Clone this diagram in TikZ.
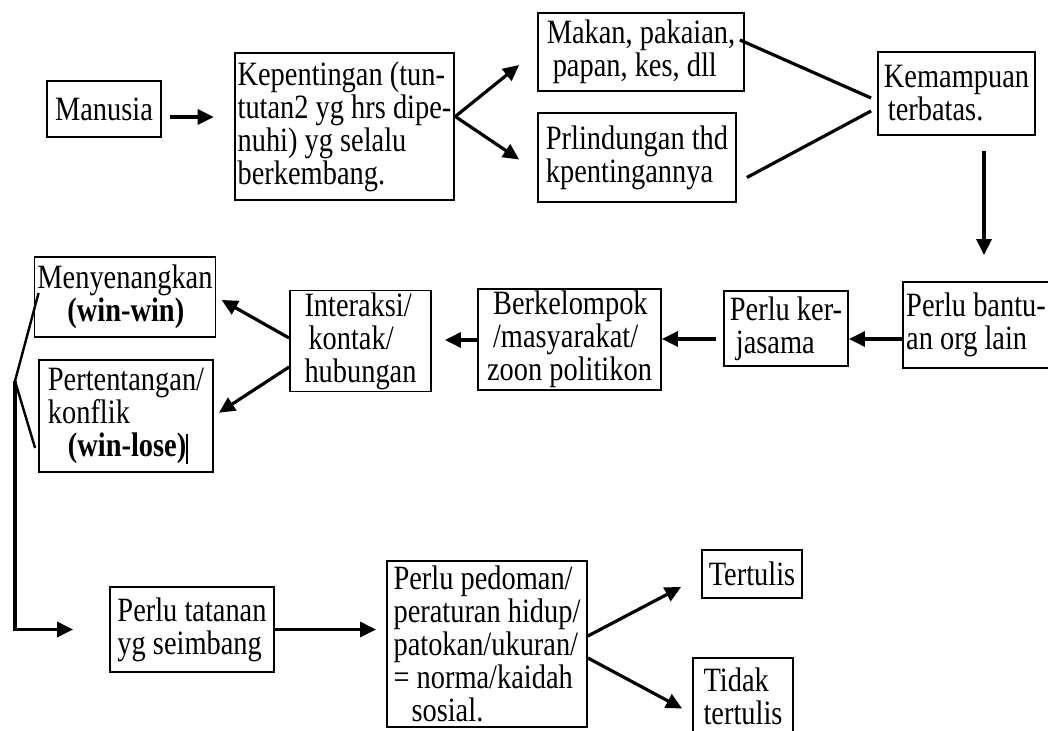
\documentclass[tikz,border=0pt]{standalone}
\usepackage{fontspec}
\setmainfont{Liberation Serif}
\usepackage{graphicx}
\usepackage{varwidth}
\usetikzlibrary{arrows.meta}
\newcommand{\tall}[1]{\scalebox{1}[1.2]{\begin{varwidth}{150pt}\raggedright#1\end{varwidth}}}
\tikzset{
  box/.style={draw,line width=0.9pt,inner xsep=1.5pt,inner ysep=1pt,
    font=\fontsize{14.2}{13.75}\selectfont},
  arr/.style={line width=1.6pt,-{Triangle[length=8pt,width=7.5pt]}},
  link/.style={line width=1.6pt}
}

\begin{document}
\begin{tikzpicture}[x=0.5pt,y=-0.5pt]
            \useasboundingbox (0,0) rectangle (1048,731);

            \node[box,minimum width=57pt,minimum height=28pt] (manusia) at (104,109){\tall{Manusia}};
            \node[box,minimum width=109.5pt,minimum height=73.5pt] (kep) at (344.5,126.5){\tall{Kepentingan (tun-\\tutan2 yg hrs dipe-\\nuhi) yg selalu\\berkembang.}};
            \node[box,minimum width=103pt,minimum height=39pt] (makan) at (641,52){\tall{Makan, pakaian,\\\hspace*{3pt}papan, kes, dll}};
            \node[box,minimum width=99pt,minimum height=44.5pt] (prlind) at (637,157.5){\tall{Prlindungan thd\\kpentingannya}};
            \node[box,minimum width=78.5pt,minimum height=41.5pt] (kemamp) at (956.5,93.5){\tall{Kemampuan\\\hspace*{2pt}terbatas.}};

            \node[box,minimum width=67pt,minimum height=43pt] (bantuan) at (976,325){\tall{Perlu bantu-\\an org lain}};
            \node[box,minimum width=62pt,minimum height=37.5pt] (kerjasama) at (786,328.5){\tall{Perlu ker-\\\hspace*{3pt}jasama}};
            \node[box,minimum width=91.5pt,minimum height=48.5pt] (berkel) at (569.5,339.5){\tall{\hspace*{3pt}Berkelompok\\\hspace*{3pt}/masyarakat/\\zoon politikon}};
            \node[box,minimum width=70.5pt,minimum height=49pt] (interaksi) at (360.5,341){\tall{Interaksi/\\\hspace*{2pt}kontak/\\hubungan}};
            \node[box,minimum width=89pt,minimum height=40pt] (menyen) at (125,297){\tall{Menyenangkan\\\hspace*{15pt}\textbf{(win-win)}}};
            \node[box,minimum width=87pt,minimum height=56pt] (pertent) at (126,416){\tall{Pertentangan/\\konflik\\\hspace*{10pt}\textbf{(win-lose)}\rule[-3pt]{0.8pt}{12.5pt}}};

            \node[box,minimum width=82pt,minimum height=42.5pt] (tatanan) at (192,629.5){\tall{Perlu tatanan\\yg seimbang}};
            \node[box,minimum width=100pt,minimum height=83pt] (pedoman) at (487,644){\tall{Perlu pedoman/\\peraturan hidup/\\patokan/ukuran/\\= norma/kaidah\\\hspace*{9pt}sosial.}};
            \node[box,minimum width=50pt,minimum height=24pt] (tertulis) at (752,574){\tall{Tertulis}};
            \node[box,minimum width=50pt,minimum height=38pt] (tidak) at (743,696){\tall{Tidak\\tertulis}};

            \coordinate (fork) at (15,381);

            \draw[arr,shorten <=4pt,shorten >=10pt] ([yshift=-4pt]manusia.east) -- ([yshift=-4pt]manusia.east -| kep.west);
            \draw[arr] ([yshift=5pt]kep.east) -- ([xshift=-9pt,yshift=-6.5pt]makan.west);
            \draw[arr] ([yshift=5pt]kep.east) -- ([xshift=-9pt,yshift=-1pt]prlind.west);
            \draw[link] ([xshift=-2.5pt,yshift=6pt]makan.east) -- ([xshift=-3pt,yshift=-2.25pt]kemamp.west);
            \draw[link] ([xshift=5pt,yshift=-10pt]prlind.east) -- ([xshift=-3pt,yshift=-8.75pt]kemamp.west);
            \draw[arr,shorten <=7.5pt,shorten >=13pt] (kemamp.south -| 984,0) -- (bantuan.north -| 984,0);

            \draw[arr] (bantuan.west |- 0,339) -- (kerjasama.east |- 0,339);
            \draw[arr,shorten <=3.5pt] (kerjasama.west |- 0,339) -- (berkel.east |- 0,339);
            \draw[arr,shorten >=6.5pt] (berkel.west |- 0,340) -- (interaksi.east |- 0,340);
            \draw[arr,shorten >=3pt] ([yshift=1.5pt]interaksi.west) -- (menyen.east);
            \draw[arr,shorten >=3pt] ([yshift=-13pt]interaksi.west) -- (pertent.east);

            \draw[link,line width=1.2pt] ([xshift=2.5pt,yshift=2pt]menyen.west) -- (fork) -- ([xshift=-1.5pt,yshift=-16pt]pertent.west);
            \draw[arr,shorten >=18pt] (fork) |- (tatanan.west);
            \draw[arr,shorten >=5pt] (tatanan.east) -- (tatanan.east -| pedoman.west);
            \draw[arr] ([yshift=4pt]pedoman.east) -- ([xshift=-10pt,yshift=-6.5pt]tertulis.west);
            \draw[arr] ([yshift=-7pt]pedoman.east) -- ([xshift=-5pt,yshift=-6.25pt]tidak.west);
        \end{tikzpicture}
\end{document}
